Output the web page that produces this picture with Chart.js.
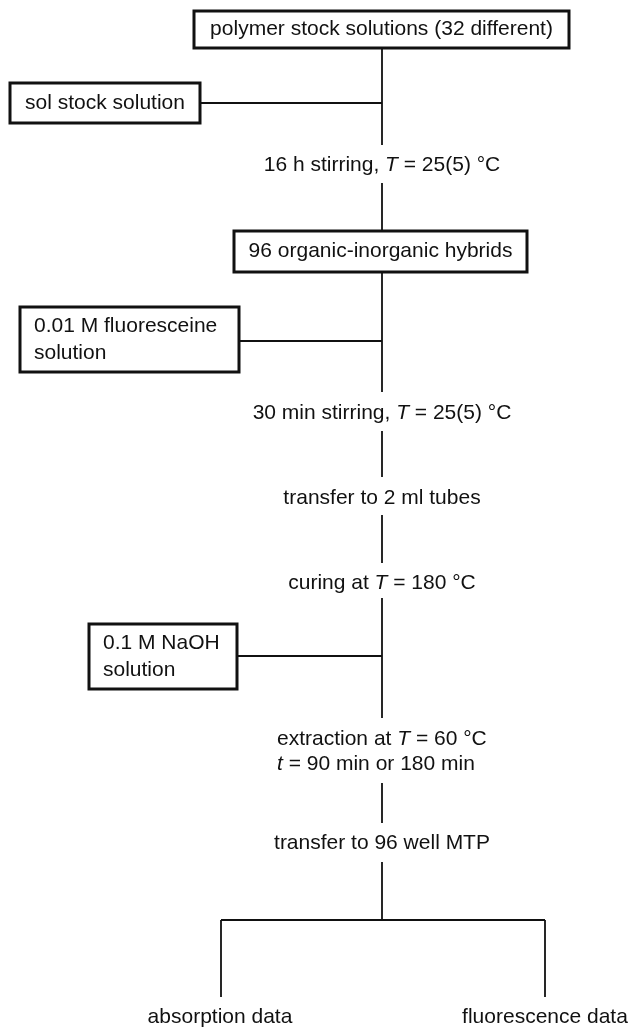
<!DOCTYPE html>
<html>
<head>
<meta charset="utf-8">
<script src="https://cdn.jsdelivr.net/npm/chart.js@4"></script>
<style>
  html, body { margin: 0; padding: 0; background: #fff; }
  canvas { display: block; }
</style>
</head>
<body>
<canvas id="flow" width="632" height="1028"></canvas>
<script>
// texts of the flow chart (*...* = italic)
const boxTexts = [
  ["polymer stock solutions (32 different)"],
  ["sol stock solution"],
  ["96 organic-inorganic hybrids"],
  ["0.01 M fluoresceine", "solution"],
  ["0.1 M NaOH", "solution"],
];
const stepTexts = [
  ["16 h stirring, *T* = 25(5) °C"],
  ["30 min stirring, *T* = 25(5) °C"],
  ["transfer to 2 ml tubes"],
  ["curing at *T* = 180 °C"],
  ["extraction at *T* = 60 °C", "*t* = 90 min or 180 min"],
  ["transfer to 96 well MTP"],
];
const endTexts = ["absorption data", "fluorescence data"];

// layout in chart units (x: 0-632, y: 0-1028 top down)
const boxRects = [
  [194, 11, 569, 48],
  [10, 83, 200, 123],
  [234, 231, 527, 272],
  [20, 307, 239, 372],
  [89, 624, 237, 689],
];
const boxAlign = ["center", "center", "center", "left", "left"];
const stepPos = [
  [382, 165, "center"],
  [382, 413, "center"],
  [382, 498, "center"],
  [382, 583, "center"],
  [277, 752, "left"],
  [382, 843, "center"],
];
const endPos = [[220, 1017], [545, 1017]];
const connectors = [
  [[382, 48], [382, 145]],
  [[200, 103], [382, 103]],
  [[382, 183], [382, 231]],
  [[382, 272], [382, 392]],
  [[239, 341], [382, 341]],
  [[382, 431], [382, 477]],
  [[382, 515], [382, 563]],
  [[382, 598], [382, 718]],
  [[237, 656], [382, 656]],
  [[382, 783], [382, 823]],
  [[382, 862], [382, 920]],
  [[221, 920], [545, 920]],
  [[221, 920], [221, 997]],
  [[545, 920], [545, 997]],
];

const INK = "#111";
const FONT = "Liberation Sans, Arial, sans-serif";
const SIZE = 21;
const LINE_H = 27;

var datasets = [];
connectors.forEach(function (c) {
  datasets.push({
    data: c.map(function (p) { return { x: p[0], y: p[1] }; }),
    borderColor: INK,
    borderWidth: 1.8,
    borderCapStyle: "butt",
  });
});
boxRects.forEach(function (r) {
  datasets.push({
    data: [
      { x: r[0], y: r[1] }, { x: r[2], y: r[1] },
      { x: r[2], y: r[3] }, { x: r[0], y: r[3] }, { x: r[0], y: r[1] },
    ],
    borderColor: INK,
    borderWidth: 3,
    borderJoinStyle: "miter",
    borderCapStyle: "square",
  });
});

function parts(str) {
  return str.split("*").map(function (s, i) { return { text: s, italic: i % 2 === 1 }; });
}

function drawLine(ctx, str, x, y, align) {
  var segs = parts(str);
  var total = 0;
  segs.forEach(function (s) {
    ctx.font = (s.italic ? "italic " : "") + SIZE + "px " + FONT;
    s.w = ctx.measureText(s.text).width;
    total += s.w;
  });
  var cx = align === "center" ? x - total / 2 : x;
  segs.forEach(function (s) {
    ctx.font = (s.italic ? "italic " : "") + SIZE + "px " + FONT;
    ctx.fillText(s.text, cx, y);
    cx += s.w;
  });
}

function drawBlock(ctx, lines, x, yc, align, lh) {
  var y0 = yc - (lines.length - 1) * lh / 2;
  lines.forEach(function (l, i) { drawLine(ctx, l, x, y0 + i * lh, align); });
}

const textPlugin = {
  id: "flowText",
  afterDatasetsDraw: function (chart) {
    var ctx = chart.ctx;
    var sx = chart.scales.x, sy = chart.scales.y;
    ctx.save();
    ctx.fillStyle = INK;
    ctx.textAlign = "left";
    ctx.textBaseline = "middle";
    boxTexts.forEach(function (lines, i) {
      var r = boxRects[i];
      var yc = sy.getPixelForValue((r[1] + r[3]) / 2);
      var x = boxAlign[i] === "center"
        ? sx.getPixelForValue((r[0] + r[2]) / 2)
        : sx.getPixelForValue(r[0] + 14);
      drawBlock(ctx, lines, x, yc, boxAlign[i], LINE_H);
    });
    stepTexts.forEach(function (lines, i) {
      var p = stepPos[i];
      drawBlock(ctx, lines, sx.getPixelForValue(p[0]), sy.getPixelForValue(p[1]), p[2], 25);
    });
    endTexts.forEach(function (t, i) {
      var p = endPos[i];
      drawLine(ctx, t, sx.getPixelForValue(p[0]), sy.getPixelForValue(p[1]), "center");
    });
    ctx.restore();
  },
};

new Chart(document.getElementById("flow"), {
  type: "scatter",
  data: { datasets: datasets },
  options: {
    responsive: false,
    animation: false,
    showLine: true,
    elements: { point: { radius: 0, hoverRadius: 0 }, line: { tension: 0 } },
    layout: { padding: 0 },
    plugins: { legend: { display: false }, tooltip: { enabled: false } },
    events: [],
    scales: {
      x: { type: "linear", min: 0, max: 632, display: false },
      y: { type: "linear", min: 0, max: 1028, reverse: true, display: false },
    },
  },
  plugins: [textPlugin],
});
</script>
</body>
</html>
